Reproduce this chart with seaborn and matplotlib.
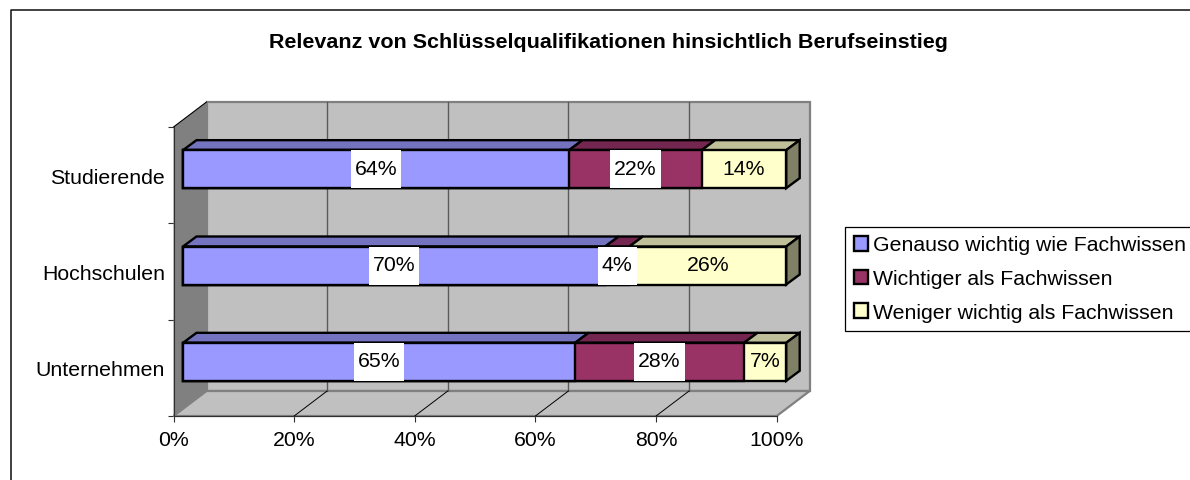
import matplotlib
matplotlib.use("Agg")
import matplotlib.pyplot as plt
from matplotlib.lines import Line2D
import seaborn as sns

categories = ["Studierende", "Hochschulen", "Unternehmen"]
series_names = ["Genauso wichtig wie Fachwissen", "Wichtiger als Fachwissen", "Weniger wichtig als Fachwissen"]
genauso = [64, 70, 65]
wichtiger = [22, 4, 28]
weniger = [14, 26, 7]
x_ticks = [0, 20, 40, 60, 80, 100]
colors = ["#9999FF", "#993366", "#FFFFCC"]
top_colors = ["#7373BF", "#732650", "#BFBF99"]
side_color = "#808066"

W, H = 1190, 481
sns.set_theme(style="white")
plt.rcParams["font.family"] = ["Liberation Sans", "DejaVu Sans"]

fig = plt.figure(figsize=(W / 100, H / 100), dpi=100)
# front plane of the fake 3d box, in pixels
left, right, top, bottom = 173.5, 776.7, 128, 417
ax = fig.add_axes([left / W, 1 - bottom / H, (right - left) / W, (bottom - top) / H])

# pixel -> data helpers for depth
ux = (right - left) / 100
uy = (bottom - top) / 3
wall_dx, wall_dy = 33 / ux, 25 / uy
bar_dx, bar_dy = 9.5 / ux, 6 / uy
depth_dx, depth_dy = 13.5 / ux, 10 / uy
bar_h = 38 / uy

# stacked bars, drawn as cumulative totals from the longest down
cum1 = list(genauso)
cum2 = [a + b for a, b in zip(genauso, wichtiger)]
cum3 = [a + b + c for a, b, c in zip(genauso, wichtiger, weniger)]
edge = 1.7
for vals, c, name in zip([cum3, cum2, cum1], colors[::-1], series_names[::-1]):
    sns.barplot(x=vals, y=categories, color=c, saturation=1, width=bar_h, orient="h",
                edgecolor="black", linewidth=edge, label=name, ax=ax, zorder=3)

for p in ax.patches:
    p.set_x(p.get_x() + bar_dx)
    p.set_y(p.get_y() - bar_dy)
    p.set_clip_on(False)

ax.set_xlim(0, 100)
ax.set_ylim(2.5, -0.5)

# walls and floor
y_top, y_bot = -0.5, 2.5
ax.fill([0, 0, wall_dx, wall_dx], [y_bot, y_top, y_top - wall_dy, y_bot - wall_dy],
        color="#808080", lw=0, clip_on=False, zorder=1)
ax.fill([wall_dx, 100 + wall_dx, 100 + wall_dx, wall_dx],
        [y_top - wall_dy, y_top - wall_dy, y_bot - wall_dy, y_bot - wall_dy],
        facecolor="#C0C0C0", edgecolor="#808080", lw=1.6, clip_on=False, zorder=1)
ax.fill([0, 100, 100 + wall_dx, wall_dx], [y_bot, y_bot, y_bot - wall_dy, y_bot - wall_dy],
        facecolor="#C0C0C0", edgecolor="#808080", lw=1.6, clip_on=False, zorder=1.2)
ax.plot([0, wall_dx], [y_top, y_top - wall_dy], color="black", lw=0.8, clip_on=False, zorder=1.5)
for t in x_ticks[1:-1]:
    ax.plot([t + wall_dx] * 2, [y_top - wall_dy, y_bot - wall_dy], color="#5A5A5A", lw=1,
            clip_on=False, zorder=2)
    ax.plot([t, t + wall_dx], [y_bot, y_bot - wall_dy], color="black", lw=0.7, clip_on=False, zorder=2)

renderer = fig.canvas.get_renderer()

# top and end faces of the bars
for i in range(len(categories)):
    up = i - bar_h / 2 - bar_dy
    low = i + bar_h / 2 - bar_dy
    starts = [0, genauso[i], cum2[i]]
    ends = [cum1[i], cum2[i], cum3[i]]
    for s, e, c in zip(starts, ends, top_colors):
        xs = [s + bar_dx, e + bar_dx, e + bar_dx + depth_dx, s + bar_dx + depth_dx]
        ys = [up, up, up - depth_dy, up - depth_dy]
        ax.fill(xs, ys, facecolor=c, edgecolor="black", lw=edge, clip_on=False, zorder=2.8,
                joinstyle="miter")
    xe = cum3[i] + bar_dx
    ax.fill([xe, xe + depth_dx, xe + depth_dx, xe], [up, up - depth_dy, low - depth_dy, low],
            facecolor=side_color, edgecolor="black", lw=edge, clip_on=False, zorder=2.8,
            joinstyle="miter")

    # data labels, the white box is as tall as the bar
    mids = [(s + e) / 2 + bar_dx for s, e in zip(starts, ends)]
    vals = [genauso[i], wichtiger[i], weniger[i]]
    for j, (m, v) in enumerate(zip(mids, vals)):
        txt = ax.text(m, i - bar_dy - 1 / uy, f"{v}%", ha="center", va="center", fontsize=15.3,
                      color="black", zorder=5)
        if j < 2:
            half = (txt.get_window_extent(renderer).width + 8) / 2 / ux
            ax.fill([m - half, m + half, m + half, m - half], [up, up, low, low],
                    color="white", lw=0, clip_on=False, zorder=4)

# axes
sns.despine(ax=ax, top=True, right=True)
for s in ["left", "bottom"]:
    ax.spines[s].set_color("#303030")
    ax.spines[s].set_linewidth(0.8)
    ax.spines[s].set_zorder(2.5)
ax.set_xticks(x_ticks)
ax.set_xticklabels([f"{t}%" for t in x_ticks], fontsize=15.3, color="black")
ax.set_yticks([0, 1, 2])
ax.set_yticklabels(categories, fontsize=15.3, color="black")
ax.set_yticks([-0.5, 0.5, 1.5, 2.5], minor=True)
ax.tick_params(axis="y", which="major", length=0, pad=6)
ax.tick_params(axis="y", which="minor", length=4, width=0.8, color="#303030", left=True)
ax.tick_params(axis="x", length=4, width=0.8, color="#303030", bottom=True, pad=6)
ax.set_xlabel("")
ax.set_ylabel("")

# legend, in series order
handles, labels = ax.get_legend_handles_labels()
leg = ax.legend(handles[::-1], labels[::-1], loc="upper left",
                bbox_to_anchor=(845 / W, 1 - 228 / H), bbox_transform=fig.transFigure,
                borderaxespad=0, fontsize=15.3, labelcolor="black", frameon=True, fancybox=False,
                framealpha=1, edgecolor="black", handlelength=0.7, handleheight=0.7,
                handletextpad=0.2, labelspacing=0.7, borderpad=0.4)
leg.get_frame().set_linewidth(0.9)

fig.text(608 / W, 1 - 42 / H, "Relevanz von Schlüsselqualifikationen hinsichtlich Berufseinstieg",
         ha="center", va="center", fontsize=15.45, fontweight="bold", color="black")

# outer frame only shows on top and left
fig.add_artist(Line2D([10.5 / W, 10.5 / W, 1], [0, 1 - 10.5 / H, 1 - 10.5 / H], color="#202020", lw=1.2))

fig.savefig("out.png", dpi=100)
